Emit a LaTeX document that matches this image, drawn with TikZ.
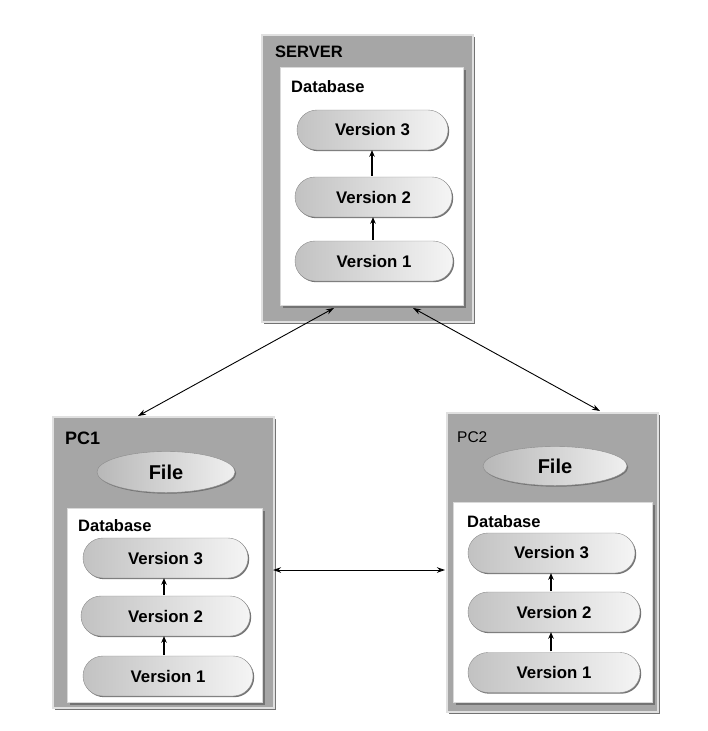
\documentclass[tikz,border=0pt]{standalone}
\usepackage{fontspec}
\setmainfont{Liberation Sans}
\usetikzlibrary{shapes.misc,shapes.geometric,shadows,arrows.meta}
\tikzset{
  outerbox/.style={rectangle, fill=black!35, draw=black!12, line width=1.5pt, inner sep=0pt,
     drop shadow={shadow xshift=1.5pt, shadow yshift=-1.5pt, fill=black!55, opacity=1}},
  whitebox/.style={rectangle, fill=white, draw=black!15, line width=0.5pt, inner sep=0pt,
     drop shadow={shadow xshift=3pt, shadow yshift=-3pt, fill=black!55, opacity=1}},
  vernode/.style={rounded rectangle, left color=black!24, right color=black!4, draw=black!45,
     line width=0.4pt, minimum height=40pt, inner sep=0pt,
     font=\fontsize{16.8}{18}\selectfont\bfseries,
     drop shadow={shadow xshift=1.2pt, shadow yshift=-1.2pt, fill=black!55, opacity=1}},
  filenode/.style={ellipse, left color=black!28, right color=black!6, draw=black!45,
     line width=0.4pt, minimum width=138pt, minimum height=41pt, inner sep=0pt,
     font=\fontsize{20}{22}\selectfont\bfseries,
     drop shadow={shadow xshift=1.2pt, shadow yshift=-1.2pt, fill=black!55, opacity=1}},
  title/.style={anchor=west, inner sep=0pt, font=\fontsize{16.5}{18}\selectfont\bfseries},
  uparrow/.style={-{Stealth[length=6.5pt,width=5.5pt]}, line width=1.3pt, shorten <=1pt},
  link/.style={{Stealth[length=8pt,width=5.5pt]}-{Stealth[length=8pt,width=5.5pt]}, line width=0.9pt}
}
\begin{document}
\begin{tikzpicture}[x=1pt,y=-1pt]
\useasboundingbox (0,0) rectangle (707,731);
\fill[white] (0,0) rectangle (707,731);

% SERVER
\node (server) [outerbox, minimum width=211pt, minimum height=287pt] at (367.5,178.5) {};
\node (serverdb) [whitebox, minimum width=183pt, minimum height=238pt] at (371.5,186) {};
\node (servertitle) [title] at (275,52) {SERVER};
\node (serverdbtitle) [title] at (291,87) {Database};
\node (sv3) [vernode, minimum width=151pt] at (372.5,130) {Version 3};
\node (sv2) [vernode, minimum width=157pt] at (373.5,197) {Version 2};
\node (sv1) [vernode, minimum width=158pt] at (374,261) {Version 1};
\draw[uparrow] (sv1.north -| 373,0) -- (sv2.south -| 373,0);
\draw[uparrow] (sv2.north -| 372,0) -- (sv3.south -| 372,0);

% PC1
\node (pc1) [outerbox, minimum width=221pt, minimum height=291pt] at (163.5,562.5) {};
\node (pc1db) [whitebox, minimum width=195pt, minimum height=194pt] at (164.5,605) {};
\node (pc1title) [title, font=\fontsize{18}{20}\selectfont\bfseries] at (65,438) {PC1};
\node (pc1file) [filenode] at (166,472) {File};
\node (pc1dbtitle) [title] at (78,526) {Database};
\node (a3) [vernode, minimum width=165pt] at (165.5,558) {Version 3};
\node (a2) [vernode, minimum width=169pt] at (165.5,616) {Version 2};
\node (a1) [vernode, minimum width=170pt] at (168,676) {Version 1};
\draw[uparrow] (a1.north -| 164,0) -- (a2.south -| 164,0);
\draw[uparrow] (a2.north -| 164,0) -- (a3.south -| 164,0);

% PC2
\node (pc2) [outerbox, minimum width=211pt, minimum height=299pt] at (552.5,562.5) {};
\node (pc2db) [whitebox, minimum width=199pt, minimum height=200pt] at (552.5,602) {};
\node (pc2title) [title, font=\fontsize{15.5}{17}\selectfont] at (457,437) {PC2};
\node (pc2file) [filenode, minimum width=144pt, minimum height=39pt] at (555,466) {File};
\node (pc2dbtitle) [title] at (467,522) {Database};
\node (b3) [vernode, minimum width=167pt] at (551.5,553) {Version 3};
\node (b2) [vernode, minimum width=172pt] at (554,612) {Version 2};
\node (b1) [vernode, minimum width=172pt] at (554,672.5) {Version 1};
\draw[uparrow] (b1.north -| 551,0) -- (b2.south -| 551,0);
\draw[uparrow] (b2.north -| 551,0) -- (b3.south -| 551,0);

% links
\coordinate (sl) at (334,308);
\coordinate (sr) at (413,308);
\coordinate (p1top) at (138,416);
\coordinate (p2top) at (600,411);
\coordinate (p1right) at (273,570);
\coordinate (p2left) at (445,570);
\draw[link] (sl) -- (p1top);
\draw[link] (sr) -- (p2top);
\draw[link] (p1right) -- (p2left);
\end{tikzpicture}
\end{document}
